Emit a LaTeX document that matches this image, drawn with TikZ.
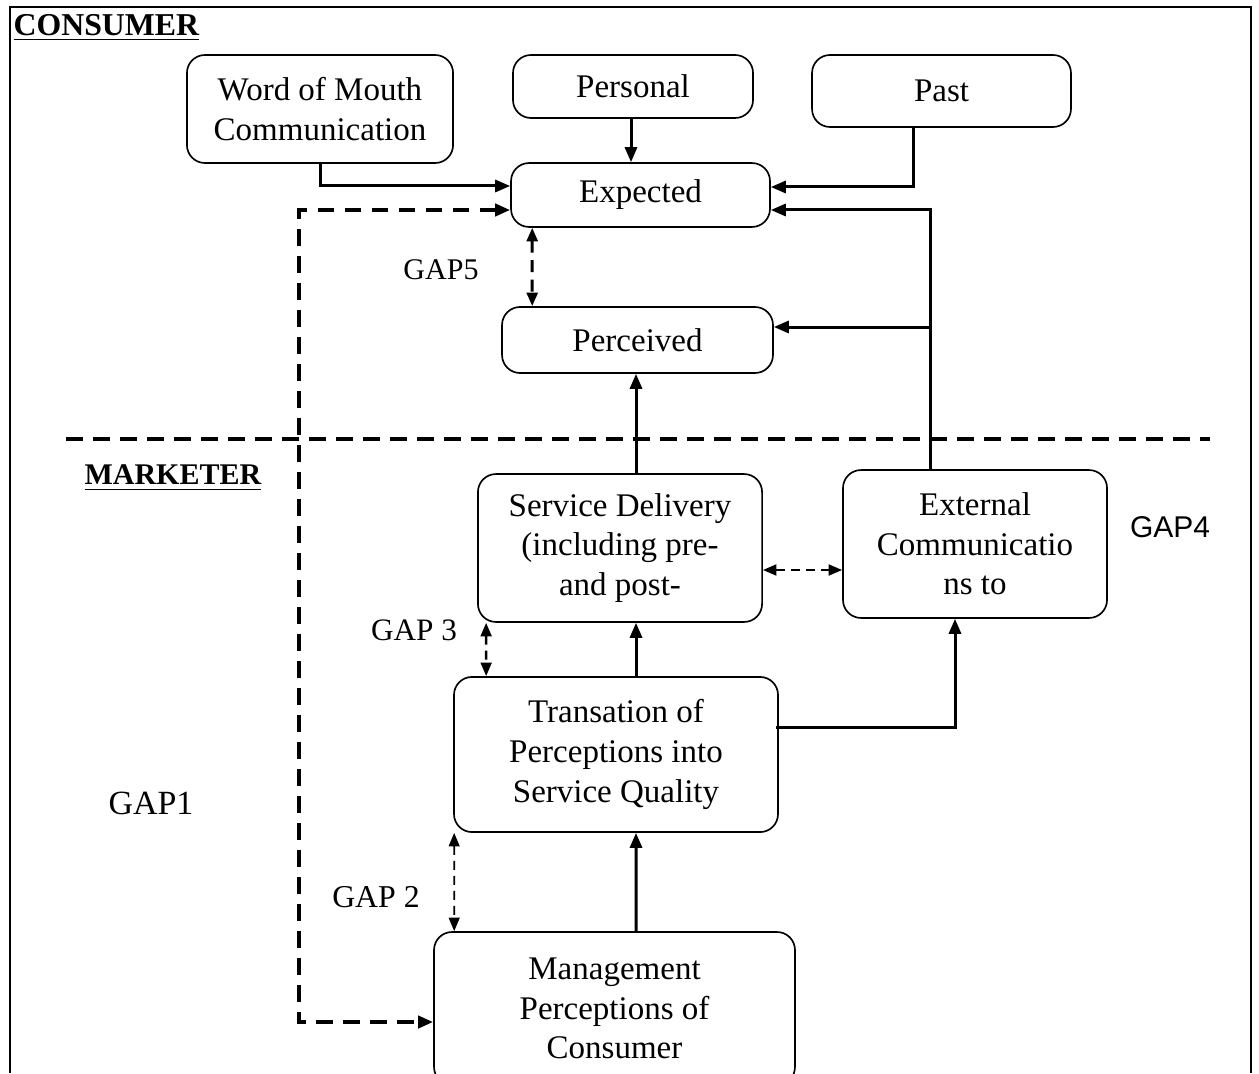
\documentclass[tikz,border=0pt]{standalone}
\usepackage{fontspec}
\setmainfont{Liberation Serif}
\newfontfamily\arialfont{Liberation Sans}
\usetikzlibrary{arrows.meta,calc}

\begin{document}
\begin{tikzpicture}[x=0.3333pt,y=-0.3333pt,
    boite/.style={draw, line width=0.55pt, rounded corners=6pt, align=center, inner sep=0pt,
        font=\fontsize{11}{13.2}\selectfont},
    fleche/.style={line width=1pt, -{Triangle[length=5pt,width=4pt]}},
    tirets/.style={line width=1.3pt, dash pattern=on 5.5pt off 3.5pt},
    ecart/.style={line width=0.8pt, dash pattern=on 3pt off 2pt,
        {Triangle[length=4.5pt,width=3.6pt]}-{Triangle[length=4.5pt,width=3.6pt]}},
    gap/.style={font=\fontsize{11}{13}\selectfont}]
\useasboundingbox (0,0) rectangle (1259,1073);

% Cadre
\draw[line width=0.8pt] (10,1073) -- (10,7) -- (1251,7) -- (1251,1073);
\node[anchor=west, inner sep=1pt, font=\bfseries\fontsize{10.6}{13}\selectfont] (cons) at (10,28) {\underline{CONSUMER}};
\node[anchor=west, inner sep=1pt, font=\bfseries\fontsize{10}{13}\selectfont] (mark) at (81,478) {\underline{MARKETER}};

% Boites
\node[boite, minimum width=88.7pt, minimum height=36pt] (wom) at (320,109) {Word of Mouth\\Communication};
\node[boite, minimum width=80pt, minimum height=21pt] (pers) at (633,86.5) {Personal};
\node[boite, minimum width=86.3pt, minimum height=24pt] (past) at (941.5,91) {Past};
\node[boite, minimum width=86.3pt, minimum height=21.3pt] (exp) at (640.5,195) {Expected};
\node[boite, minimum width=90.3pt, minimum height=22pt] (perc) at (637.5,340) {Perceived};
\node[boite, minimum width=94.7pt, minimum height=49.3pt] (serv) at (620,548) {Service Delivery\\(including pre-\\and post-};
\fill[white] (490,606) rectangle (750,619);
\node[boite, minimum width=88pt, minimum height=49.3pt] (ext) at (975,544) {External\\Communicatio\\ns to};
\node[boite, minimum width=108pt, minimum height=51.7pt] (trans) at (616,754.5) {Transation of\\Perceptions into\\Service Quality};
\node[boite, minimum width=120.3pt, minimum height=51pt] (mgmt) at (614.5,1008.5) {Management\\Perceptions of\\Consumer};

% Ligne de separation
\draw[tirets] (66,439) -- (1210,439);

% Fleches
\draw[fleche] (wom.south) |- ($(exp.west)+(0,-9)$);
\draw[fleche] ($(pers.south)+(-2,0)$) -- ($(exp.north)+(-9.5,0)$);
\draw[fleche] ($(past.south)+(-28,0)$) |- ($(exp.east)+(0,-8)$);
\coordinate (montee) at ($(ext.north)+(-45,0)$);
\draw[fleche] (montee) |- ($(exp.east)+(0,15)$);
\coordinate (pe) at ($(perc.east)+(0,-13)$);
\draw[fleche] (montee |- pe) -- (pe);
\draw[fleche] ($(serv.north)+(16,0)$) -- ($(perc.south)+(-1.5,0)$);
\draw[fleche] ($(trans.north)+(20,0)$) -- ($(serv.south)+(16,0)$);
\draw[fleche] ($(trans.east)+(-3,-27.5)$) -| ($(ext.south)+(-20,0)$);
\draw[fleche] ($(mgmt.north)+(21.5,0)$) -- ($(trans.south)+(20,0)$);

% Ecarts
\draw[tirets, {Triangle[length=5pt,width=4pt]}-{Triangle[length=5pt,width=4pt]}]
    ($(exp.west)+(0,15)$) -- ++(-211,0) |- ($(mgmt.west)+(0,13.5)$);
\draw[ecart, line width=1pt, dash pattern=on 4pt off 2.5pt] ($(exp.south west)+(22,0)$) -- ($(perc.north west)+(31,0)$);
\draw[ecart] ($(serv.south west)+(9,0)$) -- ($(trans.north west)+(33,0)$);
\draw[ecart] ($(serv.east)+(0,22)$) -- ($(ext.west)+(0,26)$);
\draw[ecart, line width=0.6pt] ($(trans.south west)+(1,0)$) -- ($(mgmt.north west)+(21,0)$);

% Etiquettes
\node[gap, font=\fontsize{10}{12}\selectfont] (g5) at (441,270) {GAP5};
\node[gap, font=\fontsize{10.4}{12}\selectfont] (g3) at (414,630) {GAP 3};
\node[gap, font=\fontsize{11.3}{13}\selectfont] (g1) at (151,803) {GAP1};
\node[gap, font=\fontsize{10.6}{13}\selectfont] (g2) at (376,897) {GAP 2};
\node[font=\arialfont\fontsize{10}{12}\selectfont] (g4) at (1170,527) {GAP4};
\end{tikzpicture}
\end{document}
